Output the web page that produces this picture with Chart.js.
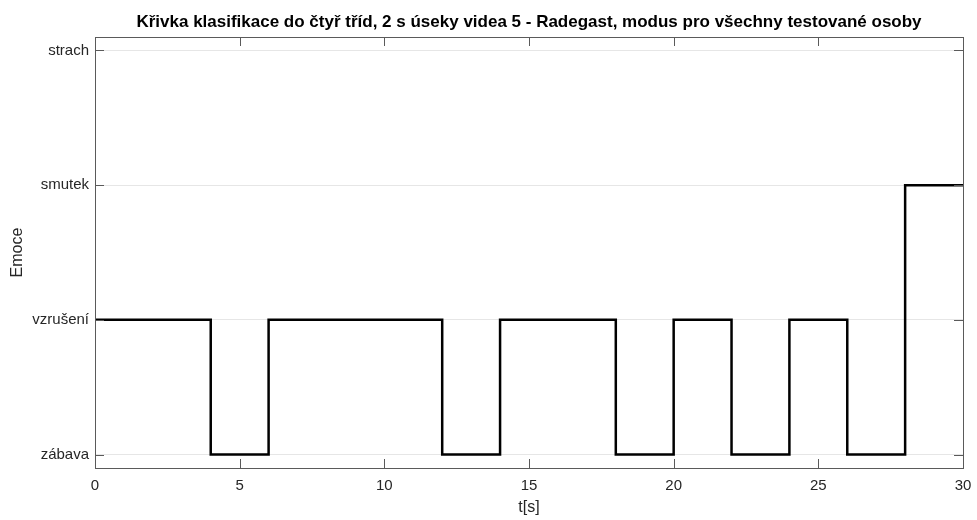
<!DOCTYPE html>
<html>
<head>
<meta charset="utf-8">
<script src="https://cdn.jsdelivr.net/npm/chart.js@4"></script>
<style>
html,body{margin:0;padding:0;background:#fff;}
#wrap{width:977px;height:520px;}
</style>
</head>
<body>
<div id="wrap"><canvas id="c" width="977" height="520"></canvas></div>
<script>
const titleText = 'Křivka klasifikace do čtyř tříd, 2 s úseky videa 5 - Radegast, modus pro všechny testované osoby';
const categoryLabels = ['zábava', 'vzrušení', 'smutek', 'strach'];
const categoryValues = [1, 2, 3, 4];
const times = [0, 2, 4, 6, 8, 10, 12, 14, 16, 18, 20, 22, 24, 26, 28, 30];
const values = [2, 2, 1, 2, 2, 2, 1, 2, 2, 1, 2, 1, 2, 1, 3, 3];
const xTicks = [0, 5, 10, 15, 20, 25, 30];

const FONT = '"Liberation Sans", Arial, Helvetica, sans-serif';
const TICK_LEN = 9;

const boxPlugin = {
  id: 'boxPlugin',
  afterDatasetsDraw(chart) {
    const ctx = chart.ctx;
    const a = chart.chartArea;
    const xs = chart.scales.x, ys = chart.scales.y;
    ctx.save();
    ctx.strokeStyle = '#5a5a5a';
    ctx.lineWidth = 1;
    ctx.beginPath();
    xTicks.forEach(v => {
      const px = Math.round(xs.getPixelForValue(v)) + 0.5;
      ctx.moveTo(px, a.bottom); ctx.lineTo(px, a.bottom - TICK_LEN);
      ctx.moveTo(px, a.top); ctx.lineTo(px, a.top + TICK_LEN);
    });
    categoryValues.forEach(v => {
      const py = Math.round(ys.getPixelForValue(v)) + 0.5;
      ctx.moveTo(a.left, py); ctx.lineTo(a.left + TICK_LEN, py);
      ctx.moveTo(a.right, py); ctx.lineTo(a.right - TICK_LEN, py);
    });
    ctx.stroke();
    ctx.strokeRect(Math.round(a.left) + 0.5, Math.round(a.top) + 0.5,
                   Math.round(a.right - a.left), Math.round(a.bottom - a.top));
    ctx.restore();
  }
};

new Chart(document.getElementById('c'), {
  type: 'line',
  data: {
    datasets: [{
      data: times.map((t, i) => ({x: t, y: values[i]})),
      stepped: true,
      borderColor: '#000000',
      borderWidth: 2.5,
      pointRadius: 0,
      fill: false,
      clip: 4
    }]
  },
  options: {
    responsive: false,
    animation: false,
    devicePixelRatio: 1,
    layout: {padding: {left: 0, right: 14, top: 0, bottom: 0}},
    plugins: {
      legend: {display: false},
      tooltip: {enabled: false},
      title: {
        display: true,
        text: titleText,
        fullSize: false,
        color: '#000000',
        font: {family: FONT, size: 17, weight: 'bold', lineHeight: 1.2},
        padding: {top: 12, bottom: 4.6}
      }
    },
    scales: {
      x: {
        type: 'linear',
        min: 0, max: 30,
        afterBuildTicks: s => { s.ticks = xTicks.map(v => ({value: v})); },
        afterFit: s => { s.height = 52; s.paddingLeft = 0; s.paddingRight = 0; },
        grid: {display: false, drawTicks: false},
        border: {display: false},
        ticks: {color: '#262626', font: {family: FONT, size: 15}, padding: 9, maxRotation: 0},
        title: {display: true, text: 't[s]', color: '#262626', font: {family: FONT, size: 16, lineHeight: 1.2}, padding: {top: 0, bottom: 3}}
      },
      y: {
        type: 'linear',
        min: 0.9, max: 4.1,
        afterBuildTicks: s => { s.ticks = categoryValues.map(v => ({value: v})); },
        afterFit: s => { s.width = 95; s.paddingTop = 0; s.paddingBottom = 0; },
        grid: {display: true, color: '#e6e6e6', lineWidth: 1, drawTicks: false},
        border: {display: false},
        ticks: {
          color: '#262626', font: {family: FONT, size: 15}, padding: 6,
          callback: v => { const i = categoryValues.indexOf(v); return i >= 0 ? categoryLabels[i] : ''; }
        },
        title: {display: true, text: 'Emoce', color: '#262626', font: {family: FONT, size: 16, lineHeight: 1.2}, padding: {top: 8, bottom: 0}}
      }
    }
  },
  plugins: [boxPlugin]
});
</script>
</body>
</html>
